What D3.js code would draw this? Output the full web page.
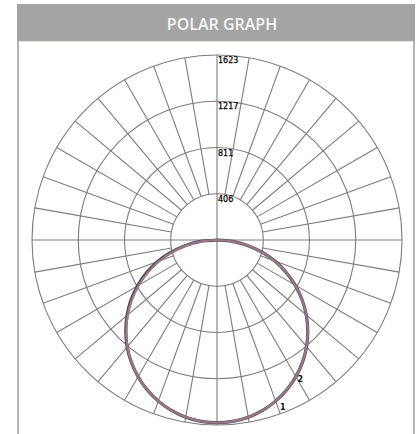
<!DOCTYPE html>
<html>
<head>
<meta charset="utf-8">
<script src="https://cdn.jsdelivr.net/npm/d3@7"></script>
<style>
  html, body { margin: 0; padding: 0; background: #fff; }
  svg { display: block; }
</style>
</head>
<body>
<svg id="chart" width="419" height="434"></svg>
<script>
// ---------- data ----------
const title = "POLAR GRAPH";
const ringTicks = [406, 811, 1217, 1623];
const maxValue = 1623;
const spokeStep = 10; // degrees

// gamma angles (deg from nadir), negative = left half
const gammas = [-90, -85, -80, -75, -70, -65, -60, -55, -50, -45, -40, -35, -30, -25, -20, -15, -10, -5,
  0, 5, 10, 15, 20, 25, 30, 35, 40, 45, 50, 55, 60, 65, 70, 75, 80, 85, 90];

// curve 1 (cd)
const curve1 = [0, 135, 272, 405, 540, 668, 792, 910, 1022, 1126, 1222, 1308, 1384, 1450, 1504, 1547, 1578, 1597,
  1603, 1597, 1578, 1547, 1504, 1450, 1384, 1308, 1222, 1126, 1022, 910, 792, 668, 540, 405, 272, 135, 0];
// curve 2 (cd)
const curve2 = [0, 145, 285, 420, 556, 684, 806, 922, 1030, 1132, 1226, 1310, 1385, 1450, 1504, 1547, 1578, 1597,
  1603, 1597, 1578, 1547, 1504, 1450, 1384, 1308, 1222, 1126, 1022, 910, 792, 668, 540, 405, 272, 135, 0];

const curveLabels = [
  { name: "1", gamma: 21.5, value: 1575 },
  { name: "2", gamma: 31, value: 1420 }
];

// ---------- layout ----------
const svg = d3.select("#chart");
const cx = 217, cy = 240, R = 185;

// frame + header
svg.append("line").attr("x1", 18).attr("x2", 18).attr("y1", 38).attr("y2", 434)
  .attr("stroke", "#b4b4b4").attr("stroke-width", 2);
svg.append("line").attr("x1", 414).attr("x2", 414).attr("y1", 38).attr("y2", 434)
  .attr("stroke", "#b4b4b4").attr("stroke-width", 2);
svg.append("rect").attr("x", 17).attr("y", 4).attr("width", 398).attr("height", 37)
  .attr("fill", "#a4a4a4");
svg.append("line").attr("x1", 19).attr("x2", 413).attr("y1", 41.5).attr("y2", 41.5)
  .attr("stroke", "#e4e4dc").attr("stroke-width", 1);
svg.append("text").attr("x", 222).attr("y", 29.5)
  .attr("text-anchor", "middle")
  .attr("font-family", "Open Sans, sans-serif").attr("font-weight", 600)
  .attr("font-size", 16).attr("fill", "#f6f6f6")
  .text(title);

const r = d3.scaleLinear().domain([0, maxValue]).range([0, R]);
const g = svg.append("g").attr("transform", `translate(${cx},${cy})`);
const gridColor = "#7c7c7c";

// rings
g.selectAll("circle.ring").data(ringTicks).enter().append("circle")
  .attr("class", "ring")
  .attr("r", d => r(d))
  .attr("fill", "none").attr("stroke", gridColor).attr("stroke-width", 1.1);

// spokes (start at first ring, full lines on axes)
const spokes = d3.range(0, 360, spokeStep);
g.selectAll("line.spoke").data(spokes).enter().append("line")
  .attr("class", "spoke")
  .attr("x1", d => (d % 90 === 0 ? 0 : r(ringTicks[0])) * Math.sin(d * Math.PI / 180))
  .attr("y1", d => (d % 90 === 0 ? 0 : r(ringTicks[0])) * Math.cos(d * Math.PI / 180))
  .attr("x2", d => r(maxValue) * Math.sin(d * Math.PI / 180))
  .attr("y2", d => r(maxValue) * Math.cos(d * Math.PI / 180))
  .attr("stroke", gridColor).attr("stroke-width", 1.1);

// ring labels
g.selectAll("text.tick").data(ringTicks).enter().append("text")
  .attr("class", "tick")
  .attr("x", 1)
  .attr("y", d => -r(d) + 8)
  .attr("font-family", "DejaVu Sans, sans-serif").attr("font-size", 8)
  .attr("stroke", "#000").attr("stroke-width", 0.25)
  .attr("fill", "#000")
  .text(d => d);

// curves
const toXY = (gm, v) => [r(v) * Math.sin(gm * Math.PI / 180), r(v) * Math.cos(gm * Math.PI / 180)];
const line = d3.line().curve(d3.curveCardinal.tension(0.3));

g.append("path")
  .attr("d", line(gammas.map((gm, i) => toXY(gm, curve2[i]))))
  .attr("fill", "none").attr("stroke", "#463e66").attr("stroke-width", 3.2);
g.append("path")
  .attr("d", line(gammas.map((gm, i) => toXY(gm, curve1[i]))))
  .attr("fill", "none").attr("stroke", "#9a7a7e").attr("stroke-width", 2.2);

// curve labels
g.selectAll("text.clabel").data(curveLabels).enter().append("text")
  .attr("class", "clabel")
  .attr("x", d => toXY(d.gamma, d.value)[0])
  .attr("y", d => toXY(d.gamma, d.value)[1])
  .attr("dy", "0.35em")
  .attr("text-anchor", "middle")
  .attr("font-family", "DejaVu Sans, sans-serif").attr("font-weight", "bold").attr("font-size", 8)
  .attr("fill", "#111")
  .text(d => d.name);
</script>
</body>
</html>
